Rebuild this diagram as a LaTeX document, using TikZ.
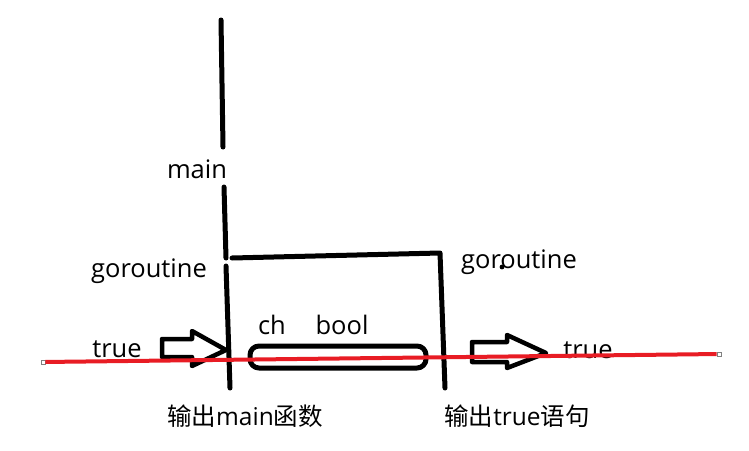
\documentclass[tikz,border=0pt]{standalone}
\usepackage{fontspec}
\setmainfont{Open Sans}
\newfontfamily\cjk{Noto Sans CJK SC}
\definecolor{redline}{RGB}{232,28,36}
\begin{document}
\begin{tikzpicture}[x=1pt,y=-1pt,
  ink/.style={line width=5pt,black,line cap=round,line join=round},
  lbl/.style={font=\fontsize{25.5}{30}\selectfont,inner sep=0pt,anchor=base},
  endsq/.style={draw=gray,fill=white,line width=0.6pt,minimum size=4pt,inner sep=0pt,rectangle}]
\useasboundingbox (0,0) rectangle (749,450);
% main timeline
\draw[ink] (221,20) -- (223,147);
\draw[ink] (224,187) -- (226,258);
\draw[ink] (226,266) -- (230,388);
% goroutine box
\draw[ink] (232,258) -- (440,253) -- (445,388);
% channel
\draw[ink,rounded corners=9pt] (250,346) rectangle (426,368);
% block arrows
\draw[ink,line width=4.5pt] (162,339) -- (192,339) -- (192,331) -- (226,350) -- (192,366) -- (192,357) -- (162,357) -- cycle;
\draw[ink,line width=4.5pt] (472,342) -- (507,342) -- (507,335) -- (546,353) -- (507,368) -- (507,362) -- (472,362) -- cycle;
% labels
\node[lbl] (tmain) at (197,178) {main};
\node[lbl] (tgo1) at (149,277) {goroutine};
\node[lbl] (tgo2) at (519,268) {goroutine};
\fill (502,267) circle (2.4pt);
\node[lbl] (ttrue1) at (117,357) {true};
\node[lbl] (tch) at (272,334) {ch};
\node[lbl] (tbool) at (342,334) {bool};
\node[lbl] (ttrue2) at (588,358) {true};
\node[lbl,font=\fontsize{24.5}{29}\selectfont] (tout1) at (245,425) {{\cjk 输出}main{\cjk 函数}};
\node[lbl,font=\fontsize{24.5}{29}\selectfont] (tout2) at (517,425) {{\cjk 输出}true{\cjk 语句}};
% red line
\node[endsq] (l) at (43,362) {};
\node[endsq] (r) at (719,354) {};
\draw[redline,line width=4pt] (l) -- (r);
\end{tikzpicture}
\end{document}
